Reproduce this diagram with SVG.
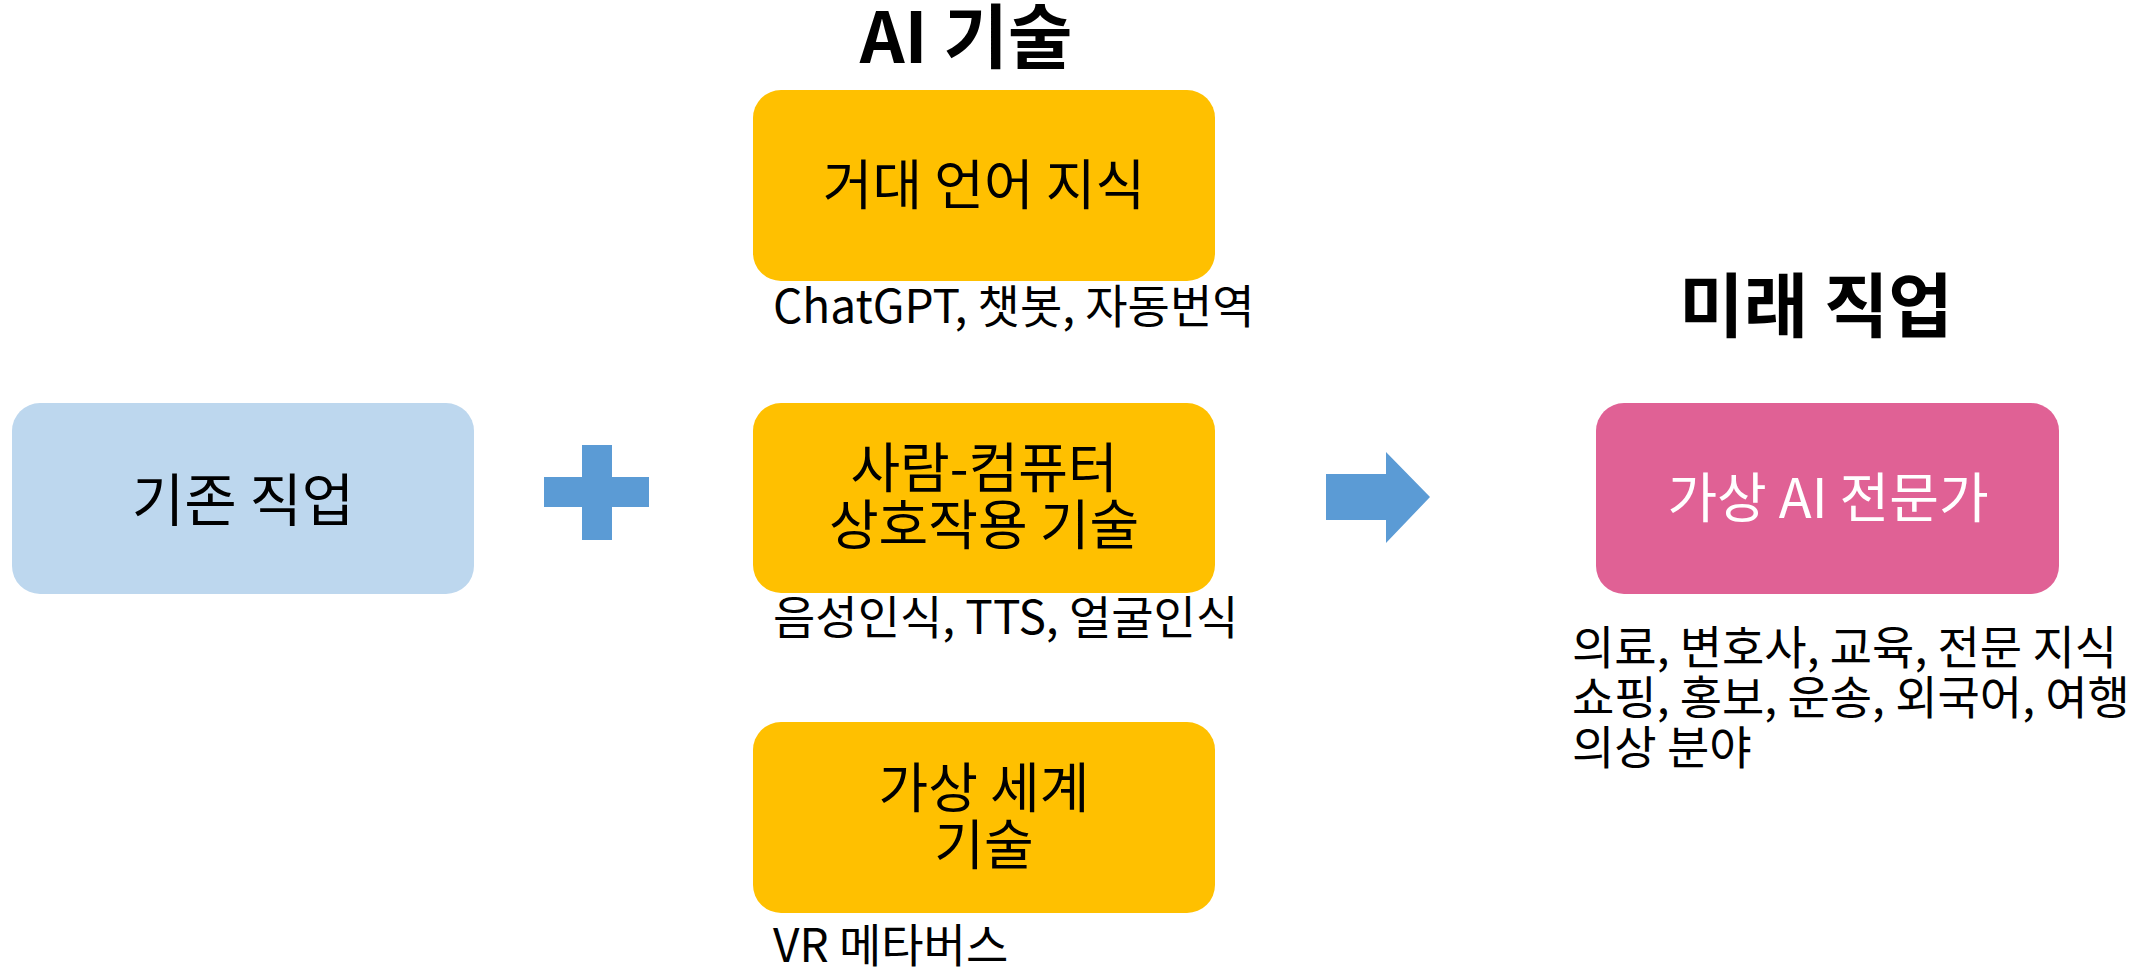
<svg xmlns="http://www.w3.org/2000/svg" width="2151" height="968" viewBox="0 0 2151 968">
<style>
  .t { font-family: "Noto Sans CJK KR", "Noto Sans", sans-serif; fill: #000; }
  .title { font-size: 70px; font-weight: bold; text-anchor: middle; }
  .box { font-size: 54px; text-anchor: middle; }
  .cap { font-size: 46px; }
  .yellow { fill: #FFC000; }
  .sym { fill: #5B9BD5; }
</style>
<rect width="2151" height="968" fill="#FFFFFF"/>
<g id="title-ai"><text class="t title" x="966" y="63">AI 기술</text></g>
<g id="title-future"><text class="t title" x="1816" y="332">미래 직업</text></g>
<g id="existing-job">
  <rect x="12" y="403" width="462" height="191" rx="28" fill="#BDD7EE"/>
  <text class="t box" x="243" y="521" style="font-size:57px">기존 직업</text>
</g>
<g id="llm">
  <rect class="yellow" x="753" y="90" width="462" height="191" rx="28"/>
  <text class="t box" x="984" y="205">거대 언어 지식</text>
  <text class="t cap" x="773" y="323">ChatGPT, 챗봇, 자동번역</text>
</g>
<g id="hci">
  <rect class="yellow" x="753" y="403" width="462" height="190" rx="28"/>
  <text class="t box" x="984" y="488">사람-컴퓨터</text>
  <text class="t box" x="984" y="545">상호작용 기술</text>
  <text class="t cap" x="773" y="634">음성인식, TTS, 얼굴인식</text>
</g>
<g id="virtual-world">
  <rect class="yellow" x="753" y="722" width="462" height="191" rx="28"/>
  <text class="t box" x="984" y="808">가상 세계</text>
  <text class="t box" x="984" y="865">기술</text>
  <text class="t cap" x="773" y="962">VR 메타버스</text>
</g>
<g id="virtual-ai-expert">
  <rect x="1596" y="403" width="463" height="191" rx="28" fill="#E06195"/>
  <text class="t box" x="1828" y="518" style="fill:#FFFFFF">가상 AI 전문가</text>
  <text class="t cap" x="1572" y="664">의료, 변호사, 교육, 전문 지식</text>
  <text class="t cap" x="1572" y="714">쇼핑, 홍보, 운송, 외국어, 여행</text>
  <text class="t cap" x="1572" y="764">의상 분야</text>
</g>
<g id="connectors">
  <path class="sym" d="M582 445 H612 V477 H649 V507 H612 V540 H582 V507 H544 V477 H582 Z"/>
  <path class="sym" d="M1326 474 H1386 V452 L1430 497 L1386 543 V520 H1326 Z"/>
</g>
</svg>
